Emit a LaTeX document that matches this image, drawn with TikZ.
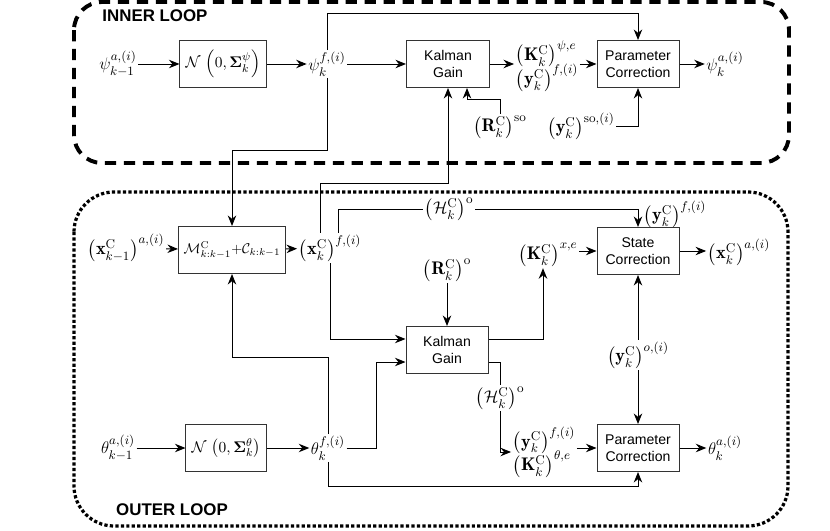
\documentclass[tikz,border=0pt]{standalone}
\usepackage{amsmath,amssymb}
\usepackage{fontspec}
\setsansfont{Liberation Sans}
\usetikzlibrary{arrows.meta}

\tikzset{
  block/.style={draw=black!80, line width=0.7pt, minimum width=2.05cm, minimum height=1.175cm, align=center, font=\sffamily, inner sep=2pt},
  noisebox/.style={block, font=\fontsize{11}{13}\selectfont},
  lbl/.style={inner sep=1pt, font=\fontsize{13}{15}\selectfont},
  arr/.style={-{Stealth[length=7.5pt,width=6pt]}, line width=0.7pt},
  wire/.style={line width=0.7pt},
  looptitle/.style={font=\sffamily\bfseries\large, inner sep=0pt},
}

\begin{document}
\begin{tikzpicture}[x=0.025cm, y=-0.025cm]
\useasboundingbox (0,0) rectangle (830,531);

\draw[line width=2.8pt, dash pattern=on 8pt off 5.5pt, rounded corners=0.7cm] (74,2) rectangle (789,163);
\draw[line width=2.3pt, dash pattern=on 2.3pt off 1.6pt, rounded corners=1cm] (74,192) rectangle (788,526);
\node[looptitle] (innerttl) at (155,16) {INNER LOOP};
\node[looptitle] (outerttl) at (172,510) {OUTER LOOP};

\coordinate (toprail) at (0,13);
\coordinate (psirail) at (0,150);
\coordinate (xrail) at (0,183);
\coordinate (thrail) at (0,357);
\coordinate (botrail) at (0,486);

\node[lbl] (psiak1) at (118,64) {$\psi^{a,(i)}_{k-1}$};
\node[noisebox, minimum width=2.15cm] (noise1) at (223,64) {$\mathcal{N}\,\left(0,\boldsymbol{\Sigma}^{\psi}_k\right)$};
\node[lbl] (psif) at (327,64) {$\psi^{f,(i)}_k$};
\node[block, minimum width=2.075cm] (kg1) at (448,64) {Kalman\\Gain};
\node[lbl, align=left] (kyf1) at (547,66) {$\left(\mathbf{K}^{\mathrm{C}}_k\right)^{\psi,e}$\\[-3pt]$\left(\mathbf{y}^{\mathrm{C}}_k\right)^{f,(i)}$};
\node[block] (pc1) at (638,64) {Parameter\\Correction};
\node[lbl] (psia) at (725,64) {$\psi^{a,(i)}_k$};
\node[lbl] (rso) at (500,127) {$\left(\mathbf{R}^{\mathrm{C}}_k\right)^{\mathrm{so}}$};
\node[lbl] (yso) at (581,126) {$\left(\mathbf{y}^{\mathrm{C}}_k\right)^{\mathrm{so},(i)}$};

\node[lbl] (xak1) at (126,248) {$\left(\mathbf{x}^{\mathrm{C}}_{k-1}\right)^{a,(i)}$};
\node[block, minimum width=2.675cm] (model) at (232,250) {$\mathcal{M}^{\mathrm{C}}_{k:k-1}{+}\mathcal{C}_{k:k-1}$};
\node[lbl] (xf) at (330,248) {$\left(\mathbf{x}^{\mathrm{C}}_k\right)^{f,(i)}$};
\node[lbl] (H1) at (449,209) {$\left(\mathcal{H}^{\mathrm{C}}_k\right)^{\mathrm{o}}$};
\node[lbl] (yf2) at (675,214) {$\left(\mathbf{y}^{\mathrm{C}}_k\right)^{f,(i)}$};
\node[lbl] (kxe) at (548,255) {$\left(\mathbf{K}^{\mathrm{C}}_k\right)^{x,e}$};
\node[block] (sc) at (638,251) {State\\Correction};
\node[lbl] (xa) at (739,252) {$\left(\mathbf{x}^{\mathrm{C}}_k\right)^{a,(i)}$};
\node[lbl] (ro) at (447,270) {$\left(\mathbf{R}^{\mathrm{C}}_k\right)^{\mathrm{o}}$};
\node[block] (kg2) at (447,350) {Kalman\\Gain};
\node[lbl] (H2) at (500,398) {$\left(\mathcal{H}^{\mathrm{C}}_k\right)^{\mathrm{o}}$};
\node[lbl] (yo) at (638,355) {$\left(\mathbf{y}^{\mathrm{C}}_k\right)^{o,(i)}$};
\node[lbl] (thetaak1) at (118,448) {$\theta^{a,(i)}_{k-1}$};
\node[noisebox, minimum width=2cm] (noise2) at (226,448) {$\mathcal{N}\,\left(0,\boldsymbol{\Sigma}^{\theta}_k\right)$};
\node[lbl] (thetaf) at (328,448) {$\theta^{f,(i)}_k$};
\node[lbl, align=left] (kyf2) at (544,452) {$\left(\mathbf{y}^{\mathrm{C}}_k\right)^{f,(i)}$\\[-3pt]$\left(\mathbf{K}^{\mathrm{C}}_k\right)^{\theta,e}$};
\node[block] (pc2) at (638,448) {Parameter\\Correction};
\node[lbl] (thetaa) at (725,448) {$\theta^{a,(i)}_k$};

\coordinate (kg1in2) at ([xshift=0.475cm]kg1.south);
\coordinate (kg2in1) at ([yshift=0.275cm]kg2.west);
\coordinate (kg2in2) at ([yshift=-0.3cm]kg2.west);
\coordinate (kg2out1) at ([yshift=0.275cm]kg2.east);
\coordinate (kg2out2) at ([yshift=-0.3cm]kg2.east);

\draw[arr] (psiak1) -- (noise1);
\draw[arr] (noise1) -- (psif);
\draw[arr] (psif) -- (kg1);
\draw[arr] (kg1) -- (kg1.east -| kyf1.west);
\draw[arr] (kyf1.east |- pc1.west) -- (pc1.west);
\draw[arr] (pc1) -- (psia);
\draw[arr] (psif.north) -- (psif.north |- toprail) -| (pc1.north);
\draw[arr] (psif.south) -- (psif.south |- psirail) -| (model.north);
\draw[arr] (rso.north) -- ++(0,-14) -| (kg1in2);
\draw[arr] (yso.east) -| (pc1.south);

\draw[arr] (xak1) -- (model);
\draw[arr] (model) -- (xf);
\draw[arr] ([xshift=-0.25cm]xf.north) -- ([xshift=-0.25cm]xf.north |- xrail) -| (kg1.south);
\draw[wire] ([xshift=0.2cm]xf.north) |- (H1.west);
\draw[arr] (H1.east) -| (sc.north);
\draw[arr] (xf.south) |- (kg2in1);
\draw[arr] (ro) -- (kg2);
\draw[arr] (kg2out1) -| ([xshift=-0.125cm]kxe.south);
\draw[arr] (kxe.east |- sc.west) -- (sc.west);
\draw[arr] (sc.east) -- (sc.east -| xa.west);
\draw[arr] (yo) -- (sc);
\draw[arr] (yo) -- (pc2);

\draw[arr] (thetaak1) -- (noise2);
\draw[arr] (noise2) -- (thetaf);
\draw[arr] (thetaf.east) -- ++(30,0) |- (kg2in2);
\draw[wire] (kg2out2) -| (H2.north);
\draw[arr] (H2.south) |- (kyf2.west);
\draw[arr] (kyf2.east |- pc2.west) -- (pc2.west);
\draw[arr] (pc2) -- (thetaa);
\draw[arr] (thetaf.north) -- (thetaf.north |- thrail) -| (model.south);
\draw[arr] (thetaf.south) -- (thetaf.south |- botrail) -| (pc2.south);
\end{tikzpicture}
\end{document}
